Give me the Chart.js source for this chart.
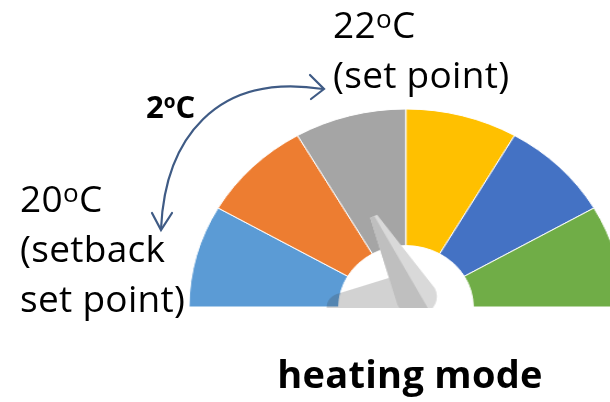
<!DOCTYPE html>
<html>
<head>
<meta charset="utf-8">
<script src="https://cdn.jsdelivr.net/npm/chart.js@4.4.1/dist/chart.umd.min.js"></script>
<style>
  html, body { margin: 0; padding: 0; background: #fff; }
  body { width: 610px; height: 402px; overflow: hidden; position: relative;
         font-family: "Open Sans", sans-serif; color: #000; }
  #gauge { position: absolute; left: 206px; top: 108px;
           transform: scaleX(1.096); transform-origin: 200px 0; }
  .lbl { position: absolute; font-size: 37px; line-height: 50px; white-space: nowrap; letter-spacing: 0.3px; }
  .lbl .sup { font-size: 26px; line-height: 0; vertical-align: 10px; }
  #step { position: absolute; left: 146px; top: 91px; font-size: 31px; line-height: 31px;
          font-weight: bold; white-space: nowrap; }
  #step .sup { font-size: 19px; line-height: 0; vertical-align: 10px; }
  #title { position: absolute; left: 410px; top: 354px; transform: translateX(-50%);
           font-size: 38px; line-height: 38px; font-weight: bold; white-space: nowrap; letter-spacing: 0.3px; }
  svg { position: absolute; left: 0; top: 0; }
</style>
</head>
<body>
<canvas id="gauge" width="400" height="200"></canvas>

<svg width="610" height="402">
  <g fill="none" stroke="#3F5B85" stroke-width="2.2" stroke-linecap="round" stroke-linejoin="miter">
    <path d="M161,229 C165,140 215,72 323,89"/>
    <polyline points="152,213 161,230 172,213"/>
    <polyline points="310,75 324,89 311,99"/>
  </g>
</svg>

<div class="lbl" id="setPoint" style="left:333px; top:-1px;"></div>
<div class="lbl" id="setback" style="left:20px; top:173px;"></div>
<div id="step"></div>
<div id="title"></div>

<script>
// ===== DATA =====
const zoneLabels = ["zone 1", "zone 2", "zone 3", "zone 4", "zone 5", "zone 6"];
const zoneSizes = [1, 1, 1, 1, 1, 1];
const needleValue = 2.14; // in zone units, 0 = left end

const setPointTemp = 22;
const setbackTemp = 20;
const setPointNote = ["(set point)"];
const setbackNote = ["(setback", "set point)"];
const modeTitle = "heating mode";

// ===== STYLE =====
const zoneColors = ["#5B9BD5", "#ED7D31", "#A5A5A5", "#FFC000", "#4472C4", "#70AD47"];

// ===== TEXT =====
function degC(v) {
  return v + '<span class="sup">o</span>C';
}
document.getElementById("setPoint").innerHTML = [degC(setPointTemp)].concat(setPointNote).join("<br>");
document.getElementById("setback").innerHTML = [degC(setbackTemp)].concat(setbackNote).join("<br>");
document.getElementById("step").innerHTML = degC(setPointTemp - setbackTemp);
document.getElementById("title").textContent = modeTitle;

// ===== NEEDLE =====
const needlePlugin = {
  id: "needle",
  afterDatasetsDraw(chart) {
    const arc = chart.getDatasetMeta(0).data[0];
    const cx = arc.x, cy = arc.y;
    const R = arc.outerRadius, r = arc.innerRadius;
    const total = zoneSizes.reduce((a, b) => a + b, 0);
    const ang = -Math.PI + needleValue / total * Math.PI;
    const c = chart.ctx;

    c.save();
    c.beginPath();
    c.rect(0, 0, chart.width, cy + 1);
    c.clip();

    // soft shadow in the hole
    c.fillStyle = "rgba(60,60,60,0.23)";
    c.beginPath();
    c.moveTo(cx - 1.18 * r, cy + 1);
    c.quadraticCurveTo(cx - 1.18 * r, cy - 0.17 * r, cx - 0.98 * r, cy - 0.23 * r);
    c.lineTo(cx - 0.21 * r, cy - 0.49 * r);
    c.lineTo(cx + 0.25 * r, cy + 1);
    c.closePath();
    c.fill();

    // needle
    const px = cx + 0.15 * r, py = cy - 0.17 * r;
    const L = 0.45 * R, wb = 19, wt = 3.5;
    const dx = Math.cos(ang), dy = Math.sin(ang);
    const nx = -dy, ny = dx;
    const pt = (u, v) => [px + u * dx + v * nx, py + u * dy + v * ny];

    c.beginPath();
    c.moveTo(...pt(L, -wt));
    c.lineTo(...pt(L, wt));
    c.lineTo(...pt(0, wb));
    c.arc(px, py, wb, ang + Math.PI / 2, ang + 3 * Math.PI / 2, false);
    c.closePath();
    c.fillStyle = "#D9D9D9";
    c.fill();
    c.clip();

    c.beginPath();
    c.moveTo(...pt(L + 5, 0.5));
    c.lineTo(...pt(-wb - 5, 5));
    c.lineTo(...pt(-wb - 5, -40));
    c.lineTo(...pt(L + 5, -40));
    c.closePath();
    c.fillStyle = "#BFBFBF";
    c.fill();
    c.restore();
  }
};

// ===== CHART =====
new Chart(document.getElementById("gauge"), {
  type: "doughnut",
  data: {
    labels: zoneLabels,
    datasets: [{
      data: zoneSizes,
      backgroundColor: zoneColors,
      borderColor: "#fff",
      borderWidth: 1
    }]
  },
  options: {
    responsive: false,
    animation: false,
    events: [],
    rotation: -90,
    circumference: 180,
    cutout: "31%",
    radius: 198,
    layout: { padding: 0 },
    plugins: {
      legend: { display: false },
      tooltip: { enabled: false }
    }
  },
  plugins: [needlePlugin]
});
</script>
</body>
</html>
